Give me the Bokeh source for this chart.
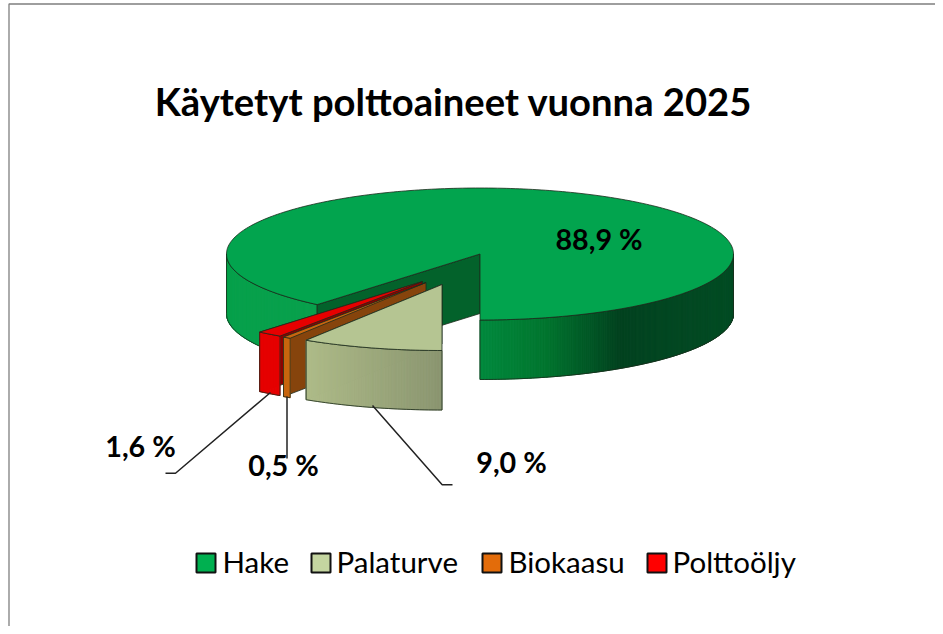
import math
from bokeh.plotting import figure
from bokeh.models import Range1d
from bokeh.core.properties import value
from bokeh.embed import file_html
from bokeh.resources import INLINE

# ---- data
title_text = "Käytetyt polttoaineet vuonna 2025"
categories = ["Hake", "Palaturve", "Biokaasu", "Polttoöljy"]
shares = [88.9, 9.0, 0.5, 1.6]
share_labels = ["88,9 %", "9,0 %", "0,5 %", "1,6 %"]
legend_colors = ["#00B050", "#C4D5A0", "#E36C0A", "#FF0000"]

# ---- styles / layout
FONT = "Lato"
CX, CY, RX, RY, DEPTH = 479.5, 253.5, 253.5, 66.0, 59.5
apex_offsets = [(0, 0), (-38, 30.5), (-54, 28.5), (-57.5, 27.5)]
top_colors = ["#02A44E", "#B5C592", "#C8660F", "#E60000"]
wall_colors = ["#03622B", "#B5C592", "#86440C", "#8E0000"]
HAKE_LEFT_RIM = [(0.0, "#08A04C"), (1.0, "#08A04C")]
HAKE_RIGHT_RIM = [(0.0, "#034D25"), (0.45, "#02421F"), (0.75, "#00762F"), (1.0, "#00893D")]
PALA_RIM = [(0.0, "#8A9570"), (1.0, "#AEBB88")]
BIO_RIM = [(0.0, "#C8660F"), (1.0, "#C8660F")]
RED_RIM = [(0.0, "#E60000"), (1.0, "#E60000")]
rims = [None, PALA_RIM, BIO_RIM, RED_RIM]
EDGE = "#1c2b1c"

p = figure(width=935, height=626, x_range=Range1d(0, 935), y_range=Range1d(626, 0),
           output_backend="svg", toolbar_location=None, min_border=0,
           outline_line_color=None, background_fill_color="white")
p.axis.visible = False
p.grid.visible = False


def pt(t, ax, ay, dz=0.0):
    r = math.radians(t)
    return ax - RX * math.sin(r), ay + RY * math.cos(r) + dz


def arc(t0, t1, ax, ay, dz=0.0):
    n = max(2, int(abs(t1 - t0)))
    return [pt(t0 + (t1 - t0) * i / n, ax, ay, dz) for i in range(n + 1)]


def mix(stops, f):
    for (a, ca), (b, cb) in zip(stops, stops[1:]):
        if f <= b:
            k = (f - a) / (b - a)
            va = [int(ca[i:i + 2], 16) for i in (1, 3, 5)]
            vb = [int(cb[i:i + 2], 16) for i in (1, 3, 5)]
            return "#%02x%02x%02x" % tuple(round(u + (w - u) * k) for u, w in zip(va, vb))
    return stops[-1][1]


def poly(points, fill, line=EDGE, width=0.8):
    p.patch([q[0] for q in points], [q[1] for q in points], fill_color=fill,
            line_color=line, line_width=width)


def rim(t0, t1, ax, ay, stops):
    """Outer wall in thin strips; stops run from the right end of the wall to its left end."""
    n = max(1, int(abs(t1 - t0) * 3))
    xright = max(pt(t0, ax, ay)[0], pt(t1, ax, ay)[0])
    xleft = min(pt(t0, ax, ay)[0], pt(t1, ax, ay)[0])
    xs, ys, cols = [], [], []
    for i in range(n):
        a = t0 + (t1 - t0) * i / n
        b = t0 + (t1 - t0) * (i + 1) / n
        qa, qb = pt(a, ax, ay), pt(b, ax, ay)
        xs.append([qa[0], qb[0], qb[0], qa[0]])
        ys.append([qa[1], qb[1], qb[1] + DEPTH, qa[1] + DEPTH])
        f = (xright - 0.5 * (qa[0] + qb[0])) / max(xright - xleft, 1e-6)
        cols.append(mix(stops, max(0, min(1, f))))
    p.patches(xs, ys, fill_color=cols, fill_alpha=1, line_color=cols, line_width=1.0)
    outline = arc(t0, t1, ax, ay) + arc(t1, t0, ax, ay, DEPTH)
    p.patch([q[0] for q in outline], [q[1] for q in outline], fill_alpha=0,
            line_color=EDGE, line_width=0.8)


# angles of the slices, from the shares (clockwise on the screen, 0 = straight ahead)
spans = []
t = 360 - 3.6 * shares[0]
for s in shares:
    spans.append((t, t + 3.6 * s))
    t += 3.6 * s

# Hake
t0, t1 = spans[0]
rim(t0, 90, CX, CY, HAKE_LEFT_RIM)
rim(270, t1, CX, CY, HAKE_RIGHT_RIM)
e0 = pt(t0, CX, CY)
poly([(CX, CY), e0, (e0[0], e0[1] + DEPTH), (CX, CY + DEPTH)], wall_colors[0])
poly([(CX, CY)] + arc(t0, t1, CX, CY), top_colors[0])

# the three exploded slices, back to front
for idx in (3, 2, 1):
    t0, t1 = spans[idx]
    ax, ay = CX + apex_offsets[idx][0], CY + apex_offsets[idx][1]
    e1 = pt(t1, ax, ay)
    poly([(ax, ay), e1, (e1[0], e1[1] + DEPTH), (ax, ay + DEPTH)], wall_colors[idx])
    rim(t0, t1, ax, ay, rims[idx])
    poly([(ax, ay)] + arc(t0, t1, ax, ay), top_colors[idx])

# leader lines
for lx, ly in [([270, 175, 165], [392, 472.7, 472.7]),
               ([286.5, 286.5], [396, 458]),
               ([372, 441.7, 452], [405, 484.3, 484.3])]:
    p.line(lx, ly, line_color="#222222", line_width=1.5)


def label(x, y, s, size, bold=True, align="center"):
    p.text([x], [y], text=[s], text_font=value(FONT), text_font_size=size,
           text_font_style="bold" if bold else "normal", text_align=align,
           text_baseline="middle", text_color="black")


# frame
p.line([8.5, 8.5, 935], [626, 3.5, 3.5], line_color="#7f7f7f", line_width=1.3)

label(453, 100, title_text, "38.2px")
for (lx, ly), s in zip([(598.5, 238), (511, 461), (283, 464), (140, 445)], share_labels):
    label(lx, ly, s, "28.7px")

# legend
for sx, tx, name, col in zip([196, 311, 482, 647], [222, 336, 508, 672], categories, legend_colors):
    p.quad(left=[sx], right=[sx + 19], top=[553], bottom=[572], fill_color=col,
           line_color="#111111", line_width=2)
    label(tx, 561, name, "29.5px", bold=False, align="left")

open("out.html", "w").write(file_html(p, INLINE))
